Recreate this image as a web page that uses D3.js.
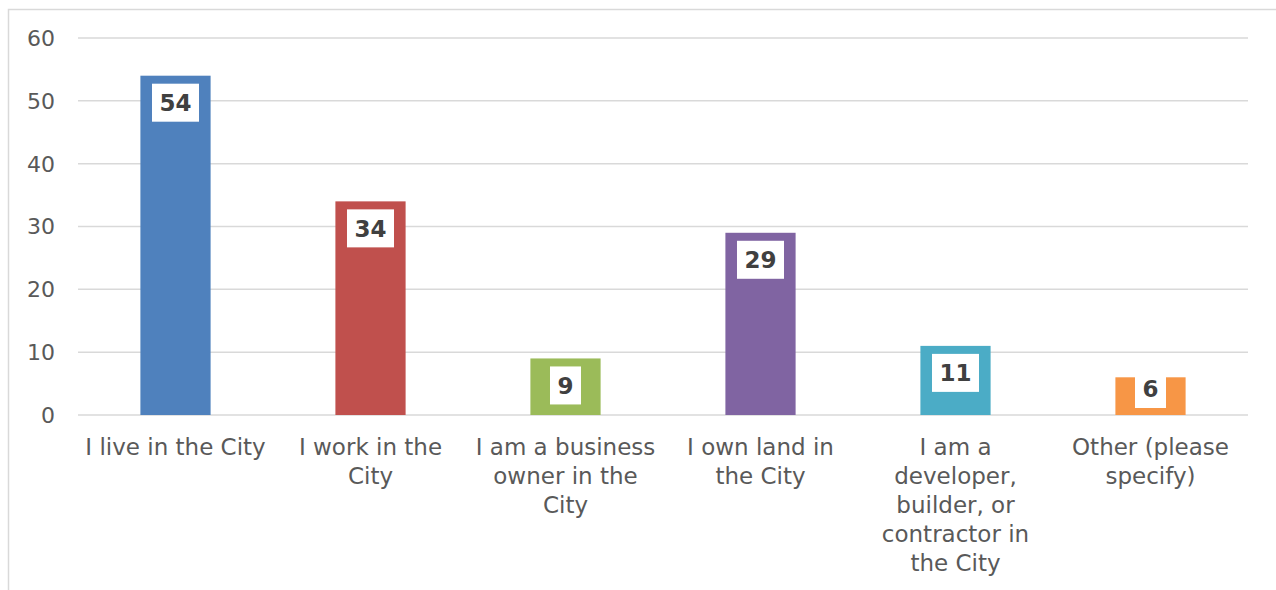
<!DOCTYPE html>
<html>
<head>
<meta charset="utf-8">
<script src="https://cdn.jsdelivr.net/npm/d3@7"></script>
<style>
  html, body { margin: 0; padding: 0; background: #fff; }
  svg { display: block; font-family: "DejaVu Sans", sans-serif; }
</style>
</head>
<body>
<div id="chart"></div>
<script>
// data
const categories = [
  "I live in the City",
  "I work in the City",
  "I am a business owner in the City",
  "I own land in the City",
  "I am a developer, builder, or contractor in the City",
  "Other (please specify)"
]
const values = [54, 34, 9, 29, 11, 6]
const colors = ["#4F81BD", "#C0504D", "#9BBB59", "#8064A2", "#4BACC6", "#F79646"]
const yTicks = [0, 10, 20, 30, 40, 50, 60]

const width = 1276
const height = 590
const margin = {top: 38, right: 28, bottom: 175, left: 78}

const svg = d3.select("#chart")
    .append("svg")
    .attr("width", width)
    .attr("height", height)

// chart frame (runs off the right and bottom edges)
svg.append("rect")
    .attr("x", 8.5)
    .attr("y", 9.5)
    .attr("width", width + 20)
    .attr("height", height + 20)
    .attr("fill", "none")
    .attr("stroke", "#d9d9d9")
    .attr("stroke-width", 1.5)

const x = d3.scaleBand()
    .domain(categories)
    .range([margin.left, width - margin.right])
    .paddingInner(0.64)
    .paddingOuter(0.32)

const y = d3.scaleLinear()
    .domain([0, 60])
    .range([height - margin.bottom, margin.top])

// gridlines
svg.append("g")
    .selectAll("line")
    .data(yTicks)
    .join("line")
    .attr("x1", margin.left)
    .attr("x2", width - margin.right)
    .attr("y1", d => y(d))
    .attr("y2", d => y(d))
    .attr("stroke", "#d9d9d9")
    .attr("stroke-width", 1.5)

// y tick labels
svg.append("g")
    .selectAll("text")
    .data(yTicks)
    .join("text")
    .attr("x", 55)
    .attr("y", d => y(d))
    .attr("dy", "0.36em")
    .attr("text-anchor", "end")
    .style("font-size", "22px")
    .style("fill", "#595959")
    .text(d => d)

// bars
svg.append("g")
    .selectAll("rect")
    .data(values)
    .join("rect")
    .attr("x", (d, i) => x(categories[i]))
    .attr("y", d => y(d))
    .attr("width", x.bandwidth())
    .attr("height", d => y(0) - y(d))
    .attr("fill", (d, i) => colors[i])

// value labels in white boxes, inside end
const boxH = 38
const labels = svg.append("g")
    .selectAll("g")
    .data(values)
    .join("g")

labels.append("rect").attr("fill", "#fff")
labels.append("text")
    .attr("text-anchor", "middle")
    .attr("dy", "0.36em")
    .style("font-size", "23px")
    .style("font-weight", "bold")
    .style("fill", "#404040")
    .text(d => d)

labels.each(function(d, i) {
    const g = d3.select(this)
    const cx = x(categories[i]) + x.bandwidth() / 2
    const top = Math.min(y(d) + 8, y(0) - 7 - boxH)
    const w = g.select("text").node().getComputedTextLength() + 15
    g.select("rect")
        .attr("x", cx - w / 2)
        .attr("y", top)
        .attr("width", w)
        .attr("height", boxH)
    g.select("text")
        .attr("x", cx)
        .attr("y", top + boxH / 2)
})

// category labels, wrapped to the band
const xLabels = svg.append("g")
    .selectAll("text")
    .data(categories)
    .join("text")
    .attr("text-anchor", "middle")
    .style("font-size", "23px")
    .style("fill", "#595959")

xLabels.each(function(d) {
    const t = d3.select(this)
    const cx = x(d) + x.bandwidth() / 2
    const words = d.split(" ")
    let line = []
    let lineNo = 0
    let tspan = t.append("tspan").attr("x", cx).attr("y", y(0) + 40)
    words.forEach(wd => {
        line.push(wd)
        tspan.text(line.join(" "))
        if (tspan.node().getComputedTextLength() > 186 && line.length > 1) {
            line.pop()
            tspan.text(line.join(" "))
            line = [wd]
            lineNo++
            tspan = t.append("tspan")
                .attr("x", cx)
                .attr("y", y(0) + 40 + lineNo * 29)
                .text(wd)
        }
    })
})
</script>
</body>
</html>
